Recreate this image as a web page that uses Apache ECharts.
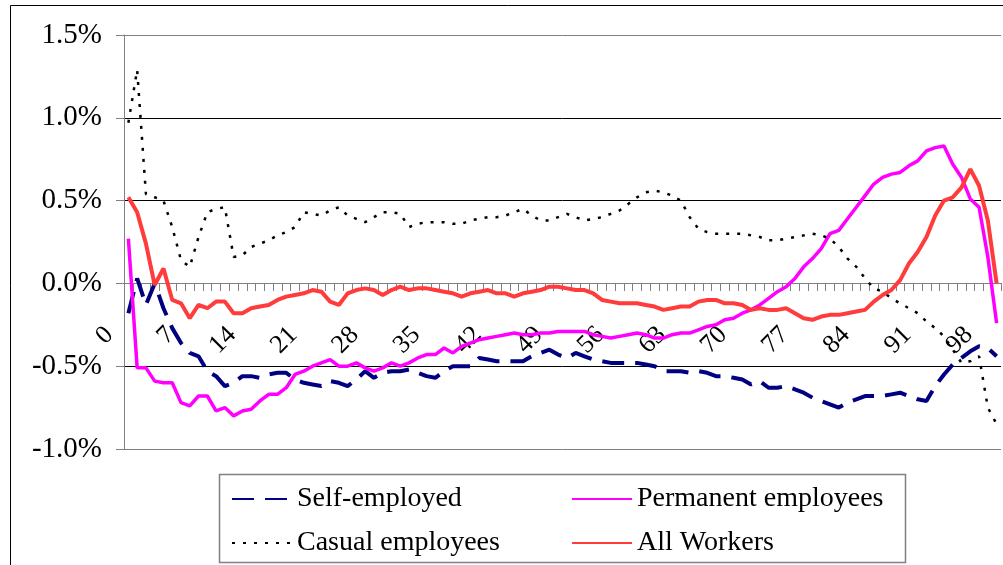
<!DOCTYPE html>
<html>
<head>
<meta charset="utf-8">
<script src="https://cdn.jsdelivr.net/npm/echarts@6/dist/echarts.min.js"></script>
<style>
    html, body { margin: 0; padding: 0; background: #fff; }
    #chart { width: 1003px; height: 565px; }
</style>
</head>
<body>
<div id="chart"></div>
<script>
// percentile groups 0..99
var categories = [];
for (var i = 0; i < 100; i++) {
    categories.push(String(i));
}

var selfEmployed = [
    -0.18, 0.03, -0.13, 0.00, -0.15, -0.27, -0.36, -0.42, -0.44, -0.53,
    -0.56, -0.62, -0.60, -0.56, -0.56, -0.57, -0.55, -0.54, -0.54, -0.58,
    -0.60, -0.61, -0.62, -0.59, -0.60, -0.62, -0.58, -0.53, -0.57, -0.54,
    -0.53, -0.53, -0.52, -0.54, -0.56, -0.57, -0.53, -0.50, -0.50, -0.50,
    -0.45, -0.46, -0.47, -0.47, -0.47, -0.47, -0.44, -0.42, -0.40, -0.43,
    -0.45, -0.42, -0.44, -0.46, -0.47, -0.48, -0.48, -0.48, -0.48, -0.49,
    -0.50, -0.53, -0.53, -0.53, -0.54, -0.53, -0.54, -0.56, -0.56, -0.57,
    -0.58, -0.61, -0.59, -0.63, -0.63, -0.62, -0.64, -0.66, -0.69, -0.71,
    -0.73, -0.75, -0.72, -0.70, -0.68, -0.68, -0.68, -0.67, -0.66, -0.68,
    -0.70, -0.71, -0.62, -0.55, -0.49, -0.45, -0.41, -0.38, -0.39, -0.44
];

var permanent = [
    0.27, -0.51, -0.51, -0.59, -0.60, -0.60, -0.72, -0.74, -0.68, -0.68,
    -0.77, -0.75, -0.80, -0.77, -0.76, -0.71, -0.67, -0.67, -0.63, -0.55,
    -0.53, -0.50, -0.48, -0.46, -0.50, -0.50, -0.48, -0.51, -0.53, -0.51,
    -0.48, -0.50, -0.48, -0.45, -0.43, -0.43, -0.39, -0.42, -0.38, -0.36,
    -0.34, -0.33, -0.32, -0.31, -0.30, -0.31, -0.31, -0.30, -0.30, -0.29,
    -0.29, -0.29, -0.29, -0.31, -0.32, -0.33, -0.32, -0.31, -0.30, -0.31,
    -0.33, -0.33, -0.31, -0.30, -0.30, -0.28, -0.26, -0.25, -0.22, -0.21,
    -0.18, -0.16, -0.13, -0.09, -0.05, -0.02, 0.03, 0.10, 0.15, 0.21,
    0.30, 0.32, 0.39, 0.46, 0.53, 0.60, 0.64, 0.66, 0.67, 0.71,
    0.74, 0.80, 0.82, 0.83, 0.72, 0.64, 0.51, 0.46, 0.16, -0.24
];

var casual = [
    0.97, 1.29, 0.54, 0.52, 0.50, 0.34, 0.14, 0.10, 0.28, 0.43,
    0.45, 0.46, 0.16, 0.17, 0.22, 0.24, 0.26, 0.29, 0.31, 0.34,
    0.43, 0.42, 0.41, 0.44, 0.46, 0.41, 0.39, 0.37, 0.40, 0.43,
    0.43, 0.42, 0.34, 0.36, 0.37, 0.37, 0.37, 0.36, 0.36, 0.38,
    0.39, 0.40, 0.40, 0.41, 0.43, 0.45, 0.41, 0.38, 0.38, 0.40,
    0.42, 0.40, 0.38, 0.39, 0.40, 0.42, 0.44, 0.48, 0.52, 0.55,
    0.56, 0.55, 0.53, 0.50, 0.40, 0.33, 0.31, 0.30, 0.30, 0.30,
    0.30, 0.29, 0.28, 0.26, 0.26, 0.27, 0.28, 0.29, 0.30, 0.29,
    0.27, 0.22, 0.15, 0.10, 0.03, -0.03, -0.05, -0.09, -0.12, -0.15,
    -0.18, -0.23, -0.27, -0.32, -0.40, -0.48, -0.47, -0.44, -0.75, -0.85
];

var allWorkers = [
    0.52, 0.43, 0.24, -0.01, 0.09, -0.10, -0.12, -0.21, -0.13, -0.15,
    -0.11, -0.11, -0.18, -0.18, -0.15, -0.14, -0.13, -0.10, -0.08, -0.07,
    -0.06, -0.04, -0.05, -0.11, -0.13, -0.06, -0.04, -0.03, -0.04, -0.07,
    -0.04, -0.02, -0.04, -0.03, -0.03, -0.04, -0.05, -0.06, -0.08, -0.06,
    -0.05, -0.04, -0.06, -0.06, -0.08, -0.06, -0.05, -0.04, -0.02, -0.02,
    -0.03, -0.04, -0.04, -0.06, -0.10, -0.11, -0.12, -0.12, -0.12, -0.13,
    -0.14, -0.16, -0.15, -0.14, -0.14, -0.11, -0.10, -0.10, -0.12, -0.12,
    -0.13, -0.16, -0.15, -0.16, -0.16, -0.15, -0.18, -0.21, -0.22, -0.20,
    -0.19, -0.19, -0.18, -0.17, -0.16, -0.11, -0.07, -0.04, 0.02, 0.12,
    0.19, 0.28, 0.41, 0.50, 0.52, 0.58, 0.69, 0.59, 0.38, 0.00
];

var serif = '"Liberation Serif", "Times New Roman", serif';

var myChart = echarts.init(document.getElementById('chart'), null, {renderer: 'canvas'});

function lineSeries(name, data, color, width, type) {
    return {
        name: name,
        type: 'line',
        data: data,
        symbol: 'none',
        showSymbol: false,
        smooth: false,
        animation: false,
        lineStyle: {color: color, width: width, type: type},
        itemStyle: {color: color}
    };
}

// plot spans 1.5% .. -1.0% over 414px, the zero line sits 166px above the bottom
var zeroOffset = -166;

var option = {
    backgroundColor: '#fff',
    animation: false,
    grid: {left: 124, right: 2, top: 35, bottom: 116},
    xAxis: {
        type: 'category',
        data: categories,
        boundaryGap: true,
        position: 'bottom',
        offset: zeroOffset,
        axisLine: {onZero: false, lineStyle: {color: '#808080', width: 1}},
        axisTick: {show: true, interval: 0, length: 8, lineStyle: {color: '#808080'}},
        axisLabel: {
            interval: 6,
            rotate: 45,
            margin: 29,
            padding: [0, 27, 0, 0],
            color: '#000',
            fontFamily: serif,
            fontSize: 26
        },
        splitLine: {show: false}
    },
    yAxis: {
        type: 'value',
        min: -1,
        max: 1.5,
        interval: 0.5,
        axisLine: {show: true, lineStyle: {color: '#808080'}},
        axisTick: {show: true, length: 8, lineStyle: {color: '#808080'}},
        axisLabel: {
            margin: 22,
            color: '#000',
            fontFamily: serif,
            fontSize: 29,
            formatter: function (v) { return v.toFixed(1) + '%'; }
        },
        splitLine: {
            show: true,
            lineStyle: {color: ['#808080', '#000', '#808080', '#000', '#000', '#808080'], width: 1}
        }
    },
    legend: [
        {
            orient: 'vertical',
            left: 226,
            top: 480,
            itemWidth: 60,
            itemHeight: 14,
            itemGap: 16,
            itemStyle: {opacity: 0},
            textStyle: {fontFamily: serif, fontSize: 28, color: '#000'},
            data: ['Self-employed', 'Casual employees']
        },
        {
            orient: 'vertical',
            left: 566,
            top: 480,
            itemWidth: 60,
            itemHeight: 14,
            itemGap: 16,
            itemStyle: {opacity: 0},
            textStyle: {fontFamily: serif, fontSize: 28, color: '#000'},
            data: ['Permanent employees', 'All Workers']
        }
    ],
    graphic: [
        {
            type: 'rect',
            left: 8, top: 3,
            shape: {width: 1010, height: 580},
            style: {fill: null, stroke: '#000', lineWidth: 1},
            silent: true
        },
        {
            type: 'rect',
            left: 217, top: 472,
            shape: {width: 686, height: 88},
            style: {fill: null, stroke: '#808080', lineWidth: 1.5},
            silent: true
        }
    ],
    series: [
        lineSeries('Self-employed', selfEmployed, '#000080', 4, [22, 11]),
        lineSeries('Permanent employees', permanent, '#FF00FF', 3.5, 'solid'),
        lineSeries('Casual employees', casual, '#000', 2.5, [3, 8]),
        lineSeries('All Workers', allWorkers, '#FF3B3B', 4, 'solid')
    ]
};

myChart.setOption(option);
</script>
</body>
</html>
